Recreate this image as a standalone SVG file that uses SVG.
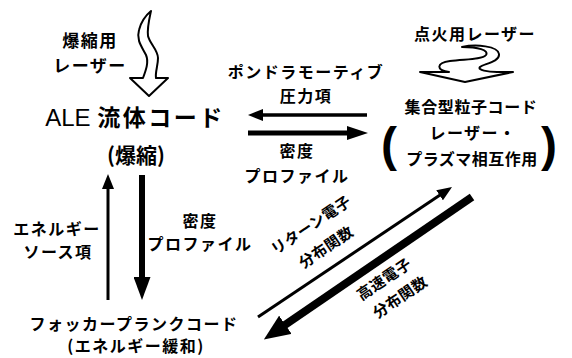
<svg xmlns="http://www.w3.org/2000/svg" width="572" height="358" viewBox="0 0 572 358">
<style>
.t { font-family: "Noto Sans CJK JP", "Noto Sans", sans-serif; font-weight: 700; fill: #000; text-anchor: middle; }
.s16 { font-size: 16px; letter-spacing: 1.5px; }
.s17 { font-size: 17px; letter-spacing: 1.5px; }
.s15 { font-size: 15px; letter-spacing: 0.5px; }
.par { font-family: "Liberation Sans", Arial, sans-serif; font-weight: 700; font-size: 48px; fill: #000; }
.ln { stroke: #000; fill: none; stroke-linecap: butt; }
.wave { fill: #fff; stroke: #000; stroke-width: 2; stroke-linejoin: round; }
</style>
<defs>
<marker id="hThin" viewBox="0 0 15 12" markerWidth="15" markerHeight="12" refX="1" refY="6" orient="auto" markerUnits="userSpaceOnUse">
<path d="M0,0 L15,6 L0,12 Z" fill="#000"/>
</marker>
<marker id="hMid" viewBox="0 0 21 14" markerWidth="21" markerHeight="14" refX="1" refY="7" orient="auto" markerUnits="userSpaceOnUse">
<path d="M0,0 L21,7 L0,14 Z" fill="#000"/>
</marker>
<marker id="hThick" viewBox="0 0 23 17" markerWidth="23" markerHeight="17" refX="1" refY="8.5" orient="auto" markerUnits="userSpaceOnUse">
<path d="M0,0 L23,8.5 L0,17 Z" fill="#000"/>
</marker>
<marker id="hDiag" viewBox="0 0 26 22" markerWidth="26" markerHeight="22" refX="1" refY="11" orient="auto" markerUnits="userSpaceOnUse">
<path d="M0,0 L26,11 L0,22 Z" fill="#000"/>
</marker>
</defs>
<rect width="572" height="358" fill="#fff"/>

<g id="blast-laser">
<text class="t s17" x="90" y="47">爆縮用</text>
<text class="t s17" x="90" y="72">レーザー</text>
<path class="wave" d="M130,78 L143,78 C146,70 149,62 146,55 C142,47 136,40 139,30 C141,22 145,16 151,11 C149,20 147,28 148,36 C150,44 158,50 158,58 C158,66 155,72 156,78 L168,78 L149,96 Z"/>
</g>

<g id="ignition-laser">
<text class="t s16" x="475" y="40">点火用レーザー</text>
<path class="wave" d="M420,72 L449,72 C436,70 436,63 450,61 C464,59 482,60 486,55 C489,50 478,47 462,47 C476,44 498,46 499,54 C500,62 483,64 480,67 C477,70 488,72 497,72 L513,72 L465,82 Z"/>
</g>

<g id="ale-code">
<text class="t" x="135" y="126"><tspan font-family="Liberation Sans, Arial, sans-serif" font-weight="400" font-size="24">ALE </tspan><tspan font-size="23" letter-spacing="2.5">流体コード</tspan></text>
<text class="t" x="136" y="163" font-size="21">(爆縮)</text>
</g>

<g id="particle-code">
<text class="t s16" x="471" y="113" style="letter-spacing:0.6px">集合型粒子コード</text>
<text class="t s16" x="473" y="139">レーザー・</text>
<text class="t s16" x="472" y="165" style="letter-spacing:0.5px">プラズマ相互作用</text>
<text class="par" x="381" y="161">(</text>
<text class="par" x="541" y="161">)</text>
</g>

<g id="fokker-planck-code">
<text class="t s16" x="134" y="330">フォッカープランクコード</text>
<text class="t s16" x="136" y="352">(エネルギー緩和)</text>
</g>

<g id="connectors">
<line class="ln" x1="367" y1="115" x2="262" y2="115" stroke-width="3.5" marker-end="url(#hThin)"/>
<line class="ln" x1="248" y1="133" x2="348" y2="133" stroke-width="5" marker-end="url(#hMid)"/>
<line class="ln" x1="108" y1="300" x2="108" y2="188" stroke-width="3" marker-end="url(#hThin)"/>
<line class="ln" x1="142" y1="175" x2="142" y2="278" stroke-width="6" marker-end="url(#hThick)"/>
<line class="ln" x1="258" y1="317" x2="440.4" y2="194.8" stroke-width="3" marker-end="url(#hThin)"/>
<line class="ln" x1="472" y1="197" x2="284.5" y2="325.3" stroke-width="8" stroke-linecap="round" marker-end="url(#hDiag)"/>
</g>

<g id="connector-labels">
<text class="t s16" x="306" y="78">ポンドラモーティブ</text>
<text class="t s16" x="306" y="102">圧力項</text>
<text class="t s16" x="297" y="157">密度</text>
<text class="t s16" x="297" y="182">プロファイル</text>
<text class="t s16" x="57" y="235">エネルギー</text>
<text class="t s16" x="58" y="258">ソース項</text>
<text class="t s16" x="200" y="227">密度</text>
<text class="t s16" x="200" y="250">プロファイル</text>
<text class="t s15" transform="translate(311,225) rotate(-34)" x="0" y="5.5">リターン電子</text>
<text class="t s15" transform="translate(326,247) rotate(-34)" x="0" y="5.5">分布関数</text>
<text class="t s15" transform="translate(384,279) rotate(-34)" x="0" y="5.5">高速電子</text>
<text class="t s15" transform="translate(400,297) rotate(-34)" x="0" y="5.5">分布関数</text>
</g>
</svg>
